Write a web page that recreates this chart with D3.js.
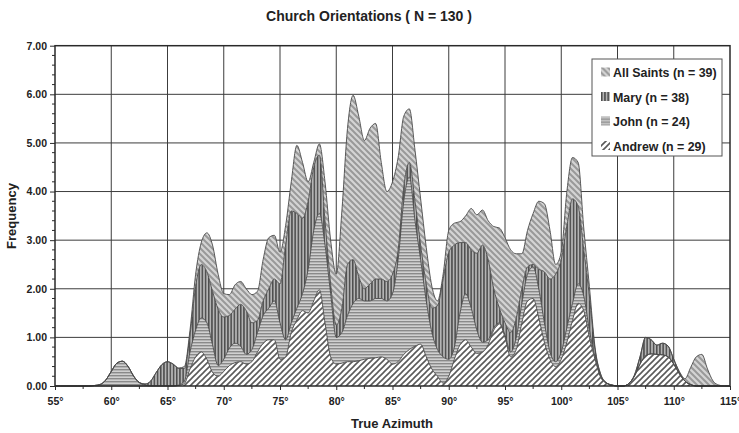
<!DOCTYPE html>
<html>
<head>
<meta charset="utf-8">
<script src="https://cdn.jsdelivr.net/npm/d3@7/dist/d3.min.js"></script>
<style>
  html, body { margin: 0; padding: 0; background: #fff; }
  svg { display: block; font-family: "Liberation Sans", Arial, sans-serif; }
</style>
</head>
<body>
<svg id="chart" width="739" height="433"></svg>
<script>
// Azimuth grid (degrees), one sample every half degree from 55° to 115°
const azimuth = d3.range(55, 115.001, 0.5);

// Smoothed frequency of each dedication at every azimuth sample
const andrew = [
  0,0,0,0,0,0,0,0,0,0, 0,0,0,0,0,0,0,0,0,0,
  0,0,.01,.05,.35,.6,.7,.55,.28,.2, .3,.42,.48,.5,.45,.5,.7,.88,.95,.95,
  .55,.6,1.1,1.36,1.55,1.5,1.75,1.98,1.3,.6, .45,.47,.5,.5,.52,.55,.57,.58,.6,.55,
  .45,.5,.65,.75,.82,.86,.6,.35,.2,.06, .2,.55,.85,.95,.8,.67,.7,.85,1.15,1.28,
  1.0,.6,.75,1.3,1.75,1.8,1.4,.9,.55,.4, .55,.9,1.35,1.7,1.55,1.0,.55,.18,.06,.02,
  0,0,.05,.2,.45,.62,.66,.65,.64,.6, .45,.25,.1,.03,0,0,0,0,0,0, 0
];
const john = [
  0,0,0,0,0,0,0,.01,.03,.12, .3,.47,.51,.4,.2,.07,.02,0,0,0,
  0,0,.01,.05,.35,.55,.7,.75,.57,.22, .25,.36,.4,.32,.2,.25,.4,.57,.65,.8,
  .75,.35,.2,.24,.35,.9,1.45,1.57,1.6,1.3, .55,.63,.95,1.2,1.28,1.2,1.18,1.22,1.2,1.2,
  1.45,2.1,3.15,3.55,2.58,1.74,1.15,.75,.55,.54, .35,.25,.65,.95,.8,.48,.2,.1,.05,.02,
  .05,.1,.25,.4,.55,.65,.6,.4,.15,.1, .15,.3,.35,.4,.3,.15,.05,.02,0,0,
  0,0,0,0,0,0,0,0,0,0, 0,0,0,0,0,0,0,0,0,0, 0
];
const mary = [
  0,0,0,0,0,0,0,0,0,0, 0,0,0,0,0,0,.02,.1,.28,.44,
  .5,.45,.34,.26,.35,.9,1.1,1.05,1.1,1.16, .87,.67,.7,.86,.9,.55,.25,.3,.4,.45,
  .8,1.95,2.3,1.95,1.55,1.4,1.3,1.2,.5,.2, .25,.5,1.05,.9,.45,.25,.35,.4,.4,.4,
  .4,.2,.3,.3,.4,.3,.35,.5,.9,1.6, 2.2,2.1,1.45,1.05,1.2,1.58,2.0,1.65,.8,.3,
  .25,.4,.4,.3,.15,.05,.4,1.05,1.5,1.8, 1.9,2.1,2.15,1.6,.95,.7,.15,.04,.01,0,
  0,0,0,.02,.15,.38,.29,.19,.24,.22, .1,.03,0,0,0,0,0,0,0,0, 0
];
const allSaints = [
  0,0,0,0,0,0,0,0,0,0, 0,0,0,0,0,0,0,0,0,0,
  0,0,.01,.04,.1,.25,.45,.8,.95,.72, .48,.43,.5,.47,.45,.58,.6,.85,1.05,.9,
  .65,.4,.6,1.4,1.15,.4,.1,.23,.8,.9, 1.05,2.0,2.8,3.38,3.3,3.05,3.2,3.2,2.4,1.85,
  1.9,1.9,1.45,1.1,1.05,.95,.75,.45,.1,.1, .45,.45,.43,.55,.85,.79,.72,.8,1.28,1.65,
  1.75,1.7,1.32,.72,.75,1.05,1.4,1.4,1.0,.2, .15,.7,.85,.9,.45,.2,.05,.01,0,0,
  0,0,0,0,0,0,0,0,0,0, 0,.02,.05,.35,.6,.65,.35,.1,.02,0, 0
];

const seriesKeys = ["andrew", "john", "mary", "allSaints"];
const legendLabels = {
  allSaints: "All Saints (n = 39)",
  mary: "Mary (n = 38)",
  john: "John (n = 24)",
  andrew: "Andrew (n = 29)"
};
const legendOrder = ["allSaints", "mary", "john", "andrew"];
const yTicks = [0, 1, 2, 3, 4, 5, 6, 7];
const xTicks = [55, 60, 65, 70, 75, 80, 85, 90, 95, 100, 105, 110, 115];

const rows = azimuth.map((a, i) => ({
  azimuth: a, andrew: andrew[i], john: john[i], mary: mary[i], allSaints: allSaints[i]
}));

const svg = d3.select("#chart");
const plot = { left: 55, right: 730, top: 45.7, bottom: 386 };

const x = d3.scaleLinear().domain([55, 115]).range([plot.left, plot.right]);
const y = d3.scaleLinear().domain([0, 7]).range([plot.bottom, plot.top]);

// Fill patterns for the four dedications
const defs = svg.append("defs");
function stripes(id, size, bg, draw) {
  const p = defs.append("pattern").attr("id", id)
    .attr("patternUnits", "userSpaceOnUse")
    .attr("width", size).attr("height", size);
  p.append("rect").attr("width", size).attr("height", size).attr("fill", bg);
  draw(p);
}
// All Saints: light grey with back-slash stripes
stripes("pat-allSaints", 6, "#d4d4d4", p => {
  p.append("path").attr("d", "M-1,-1 L7,7 M-1,5 L1,7 M5,-1 L7,1")
    .attr("stroke", "#999").attr("stroke-width", 2);
});
// Mary: dark vertical stripes
stripes("pat-mary", 3.2, "#b4b4b4", p => {
  p.append("rect").attr("x", 0).attr("width", 1.5).attr("height", 3.2).attr("fill", "#4d4d4d");
});
// John: horizontal stripes
stripes("pat-john", 3, "#d0d0d0", p => {
  p.append("rect").attr("y", 0).attr("width", 3).attr("height", 1.4).attr("fill", "#8a8a8a");
});
// Andrew: forward-slash stripes on white
stripes("pat-andrew", 6, "#ffffff", p => {
  p.append("path").attr("d", "M-1,7 L7,-1 M-1,1 L1,-1 M5,7 L7,5")
    .attr("stroke", "#5a5a5a").attr("stroke-width", 1.6);
});

// Grid
const grid = svg.append("g");
grid.selectAll("line.v").data(xTicks.slice(1, -1)).join("line")
  .attr("x1", d => x(d)).attr("x2", d => x(d))
  .attr("y1", plot.top).attr("y2", plot.bottom)
  .attr("stroke", "#3c3c3c").attr("stroke-width", 1);
grid.selectAll("line.h").data(yTicks.slice(1, -1)).join("line")
  .attr("x1", plot.left).attr("x2", plot.right)
  .attr("y1", d => y(d)).attr("y2", d => y(d))
  .attr("stroke", "#3c3c3c").attr("stroke-width", 1);

// Stacked density areas
const stack = d3.stack().keys(seriesKeys);
const layers = stack(rows);
const area = d3.area()
  .x(d => x(d.data.azimuth))
  .y0(d => y(d[0]))
  .y1(d => y(d[1]))
  .curve(d3.curveMonotoneX);
const topLine = d3.line()
  .x(d => x(d.data.azimuth))
  .y(d => y(d[1]))
  .curve(d3.curveMonotoneX);

const layerG = svg.append("g");
layers.forEach(layer => {
  layerG.append("path").attr("d", area(layer))
    .attr("fill", `url(#pat-${layer.key})`);
});
layers.forEach(layer => {
  layerG.append("path").attr("d", topLine(layer))
    .attr("fill", "none").attr("stroke", "#4a4a4a").attr("stroke-width", 0.9);
});

// Frame
svg.append("rect")
  .attr("x", plot.left).attr("y", plot.top)
  .attr("width", plot.right - plot.left).attr("height", plot.bottom - plot.top)
  .attr("fill", "none").attr("stroke", "#2a2a2a").attr("stroke-width", 1.5);

// Y axis with minor ticks
const yAxis = d3.axisLeft(y).tickValues(yTicks).tickFormat(d3.format(".2f"))
  .tickSize(5).tickPadding(3);
const yG = svg.append("g").attr("transform", `translate(${plot.left},0)`).call(yAxis);
yG.select(".domain").remove();
yG.selectAll(".tick line").attr("stroke", "#2a2a2a");
yG.selectAll("text").attr("font-size", 10.5).attr("font-weight", "bold").attr("fill", "#222")
  .attr("font-family", "Liberation Sans, Arial, sans-serif");
svg.append("g").selectAll("line")
  .data(d3.range(0, 7.001, 0.2).filter(v => Math.abs(v - Math.round(v)) > 0.01))
  .join("line")
  .attr("x1", plot.left - 3).attr("x2", plot.left)
  .attr("y1", d => y(d)).attr("y2", d => y(d))
  .attr("stroke", "#2a2a2a");

// X axis with minor ticks
const xAxis = d3.axisBottom(x).tickValues(xTicks).tickFormat(d => d + "°")
  .tickSize(4).tickPadding(8);
const xG = svg.append("g").attr("transform", `translate(0,${plot.bottom})`).call(xAxis);
xG.select(".domain").remove();
xG.selectAll(".tick line").attr("stroke", "#2a2a2a");
xG.selectAll("text").attr("font-size", 10.5).attr("font-weight", "bold").attr("fill", "#222")
  .attr("font-family", "Liberation Sans, Arial, sans-serif");
svg.append("g").selectAll("line")
  .data(d3.range(57.5, 115, 5))
  .join("line")
  .attr("x1", d => x(d)).attr("x2", d => x(d))
  .attr("y1", plot.bottom).attr("y2", plot.bottom + 3)
  .attr("stroke", "#2a2a2a");

// Titles
svg.append("text").attr("x", 369).attr("y", 21).attr("text-anchor", "middle")
  .attr("font-size", 14).attr("font-weight", "bold").attr("fill", "#222")
  .text("Church Orientations ( N = 130 )");
svg.append("text").attr("x", 392).attr("y", 428).attr("text-anchor", "middle")
  .attr("font-size", 13).attr("font-weight", "bold").attr("fill", "#222")
  .text("True Azimuth");
svg.append("text").attr("transform", "translate(16,216) rotate(-90)")
  .attr("text-anchor", "middle")
  .attr("font-size", 13).attr("font-weight", "bold").attr("fill", "#222")
  .text("Frequency");

// Legend
const legend = svg.append("g").attr("transform", "translate(592,59)");
legend.append("rect").attr("width", 130).attr("height", 97)
  .attr("fill", "#fff").attr("stroke", "#555").attr("stroke-width", 1);
legendOrder.forEach((k, i) => {
  const g = legend.append("g").attr("transform", `translate(9,${13.5 + i * 24.5})`);
  g.append("rect").attr("x", 0).attr("y", -5).attr("width", 9).attr("height", 9)
    .attr("fill", `url(#pat-${k})`);
  g.append("text").attr("x", 12).attr("y", 4.5)
    .attr("font-size", 12.4).attr("font-weight", "bold").attr("fill", "#222")
    .text(legendLabels[k]);
});
</script>
</body>
</html>
